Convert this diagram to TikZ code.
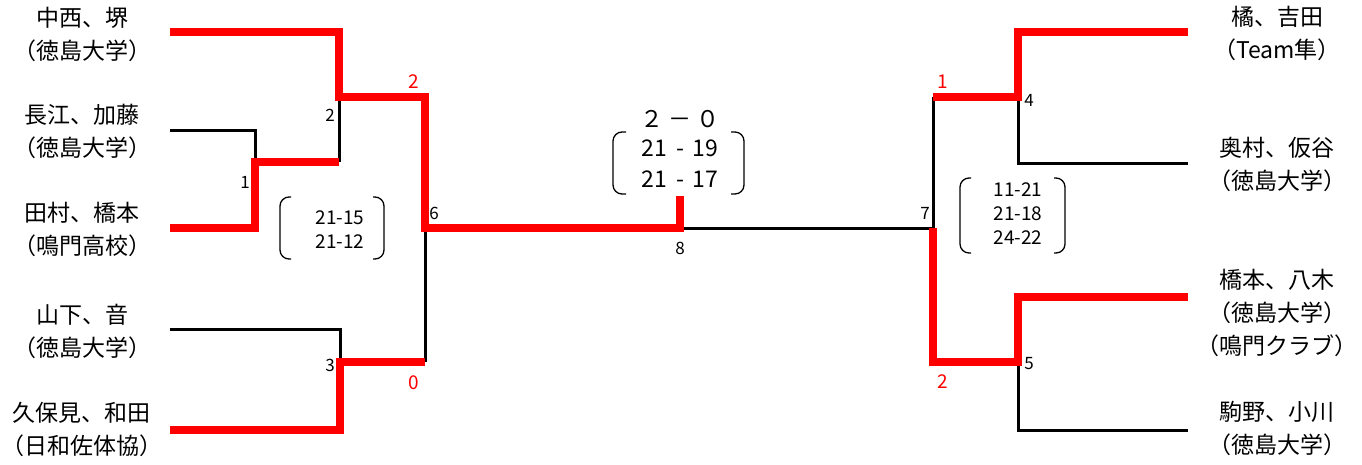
\documentclass[tikz,border=0pt]{standalone}
\usepackage{fontspec}
\setmainfont{Noto Sans CJK JP}
\usetikzlibrary{positioning}

\tikzset{
  player/.style={align=center, font=\fontsize{23}{33}\selectfont, inner sep=0pt},
  win/.style={red, line width=8pt},
  lose/.style={black, line width=3pt},
  num/.style={font=\fontsize{17}{17}\selectfont, inner sep=0pt},
  rnum/.style={num, red, font=\fontsize{19}{19}\selectfont},
  score/.style={align=center, font=\fontsize{19}{24}\selectfont, inner sep=0pt},
  paren/.style={line width=1.3pt, rounded corners=9pt}
}

\begin{document}
\begin{tikzpicture}[x=1pt, y=-1pt]
  \useasboundingbox (0,0) rectangle (1362,464);

  % Players on the left
  \node[player] (L1) at (82,34)  {中西、堺\\（徳島大学）};
  \node[player] (L2) at (82,131) {長江、加藤\\（徳島大学）};
  \node[player] (L3) at (82,229) {田村、橋本\\（鳴門高校）};
  \node[player] (L4) at (82,331) {山下、音\\（徳島大学）};
  \node[player] (L5) at (82,429) {久保見、和田\\（日和佐体協）};

  % Players on the right
  \node[player] (R1) at (1277,33)  {橘、吉田\\（Team隼）};
  \node[player] (R2) at (1277,164) {奥村、仮谷\\（徳島大学）};
  \node[player] (R3) at (1277,313) {橋本、八木\\（徳島大学）\\（鳴門クラブ）};
  \node[player] (R4) at (1277,428) {駒野、小川\\（徳島大学）};

  % Line ends and match points
  \coordinate (L1e) at (170,32);
  \coordinate (L2e) at (170,130);
  \coordinate (L3e) at (170,228);
  \coordinate (L4e) at (170,329);
  \coordinate (L5e) at (170,430);
  \coordinate (R1e) at (1188,32);
  \coordinate (R2e) at (1188,163);
  \coordinate (R3e) at (1188,297);
  \coordinate (R4e) at (1188,430);
  \coordinate (m1) at (255,162);
  \coordinate (m2) at (339,97);
  \coordinate (m3) at (340,362);
  \coordinate (m6) at (425,228);
  \coordinate (m8) at (680,196);
  \coordinate (m4) at (1018,97);
  \coordinate (m5) at (1018,362);
  \coordinate (m7) at (933,228);

  % Losing lines
  \draw[lose] (L2e) -| (m1);
  \draw[lose] (m1 -| m2) -- (m2);
  \draw[lose] (L4e) -| (m3);
  \draw[lose] (m3 -| m6) -- (m6);
  \draw[lose] (m6 -| m8) -- (m7) -- (m7 |- m4);
  \draw[lose] (m4) |- (R2e);
  \draw[lose] (m5) |- (R4e);

  % Winning lines
  \draw[win] (L3e) -| (m1) -- (m1 -| m2);
  \draw[win] (L1e) -| (m2) -| (m6) -| (m8);
  \draw[win] (L5e) -| (m3) -- (m3 -| m6);
  \draw[win] (m7 |- m4) -- (m4) |- (R1e);
  \draw[win] (m7) |- (m5) |- (R3e);

  % Match numbers
  \node[num] at (245,182) {1};
  \node[num] at (330,115) {2};
  \node[num] at (330,365) {3};
  \node[num] at (1029,100) {4};
  \node[num] at (1029,364) {5};
  \node[num] at (434,213) {6};
  \node[num] at (925,213) {7};
  \node[num] at (680,248) {8};

  % Games won
  \node[rnum] at (414,82)  {2};
  \node[rnum] at (414,383) {0};
  \node[rnum] at (943,82)  {1};
  \node[rnum] at (943,382) {2};

  % Scores
  \node[score] (s6) at (340,230) {21-15\\21-12};
  \draw[paren] (291,197) -- (280,197) -- (280,259) -- (291,259);
  \draw[paren] (373,197) -- (384,197) -- (384,259) -- (373,259);

  \node[score] (s7) at (1018,214) {11-21\\21-18\\24-22};
  \draw[paren] (971,178) -- (960,178) -- (960,253) -- (971,253);
  \draw[paren] (1054,178) -- (1065,178) -- (1065,253) -- (1054,253);

  \node[font=\fontsize{23}{23}\selectfont, inner sep=0pt] (s8) at (680,119) {２ － ０};
  \node[align=center, font=\fontsize{23}{31}\selectfont, inner sep=0pt] (s8b) at (680,164) {21 \,-\, 19\\21 \,-\, 17};
  \draw[paren] (626,132) -- (613,132) -- (613,194) -- (626,194);
  \draw[paren] (731,132) -- (744,132) -- (744,194) -- (731,194);

\end{tikzpicture}
\end{document}
